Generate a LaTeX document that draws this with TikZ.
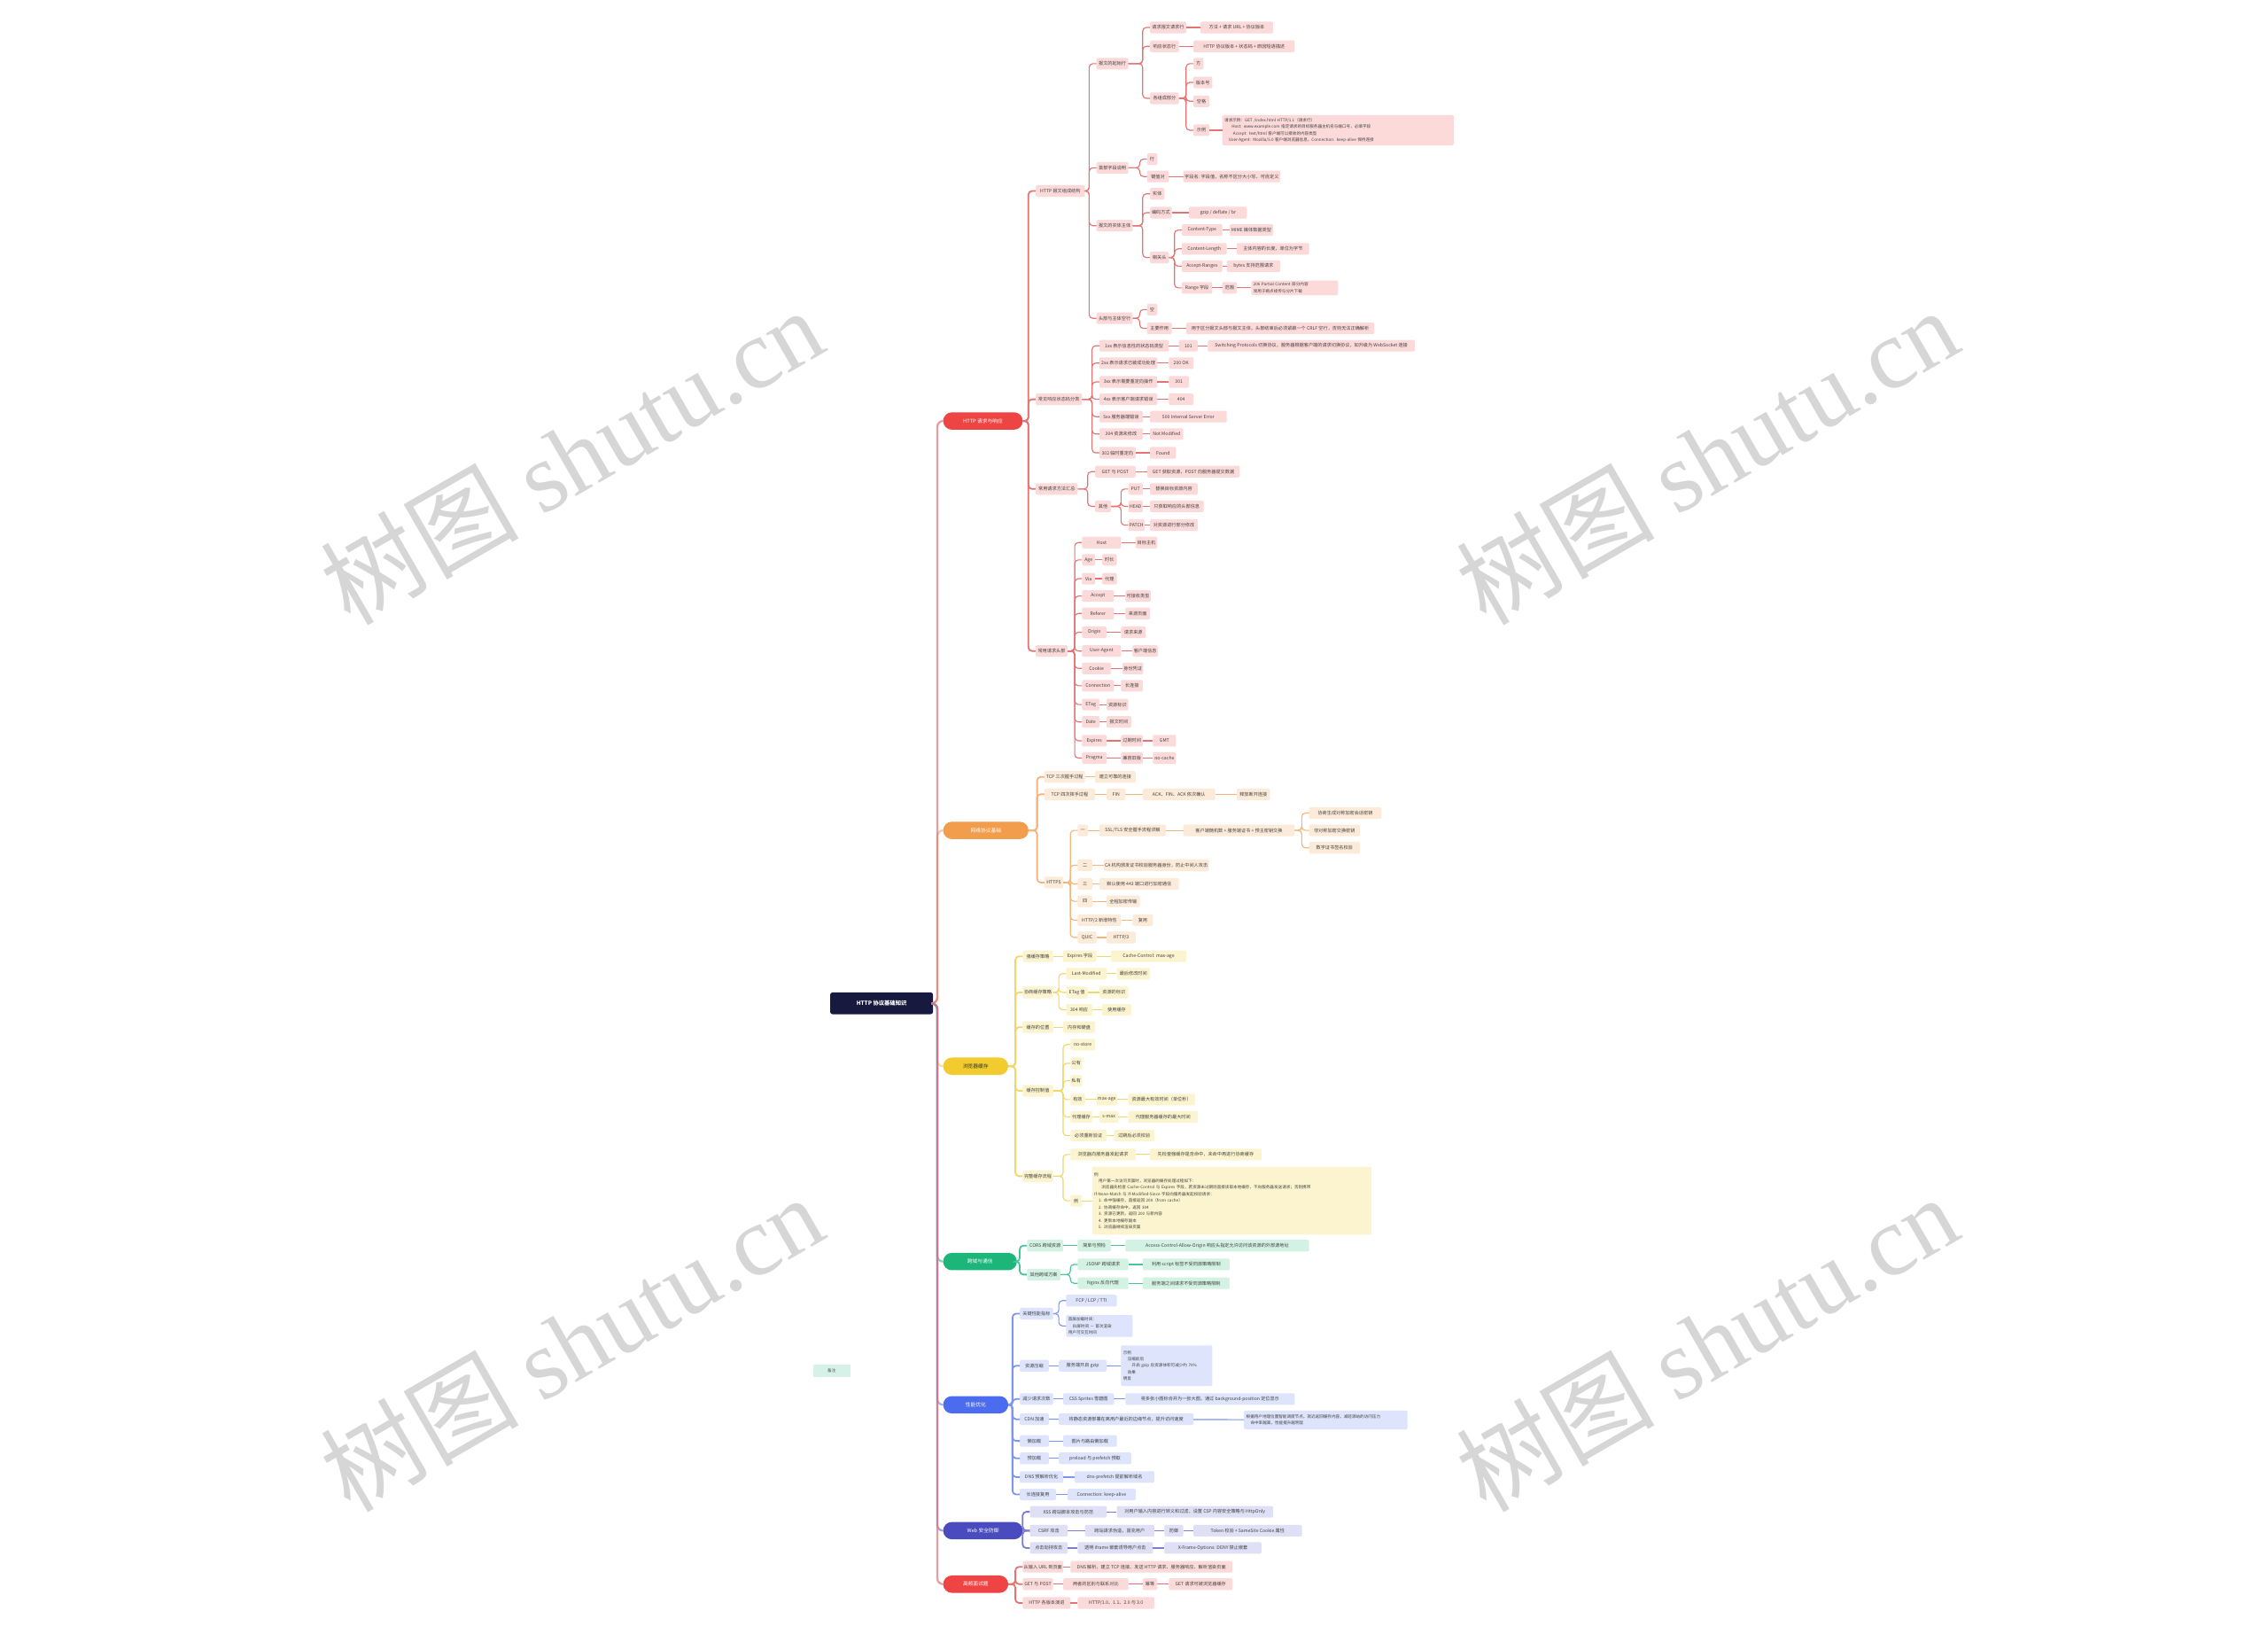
\documentclass[tikz,border=0pt]{standalone}
\usepackage{fontspec}
\setmainfont{Noto Sans CJK SC}
\newfontfamily\wmlatin{Liberation Serif}
\usepackage{xcolor}

\definecolor{rootC}{HTML}{17193F}
\definecolor{redM}{HTML}{EF4444}
\definecolor{redL}{HTML}{FCDADA}
\definecolor{redD}{HTML}{E57373}
\definecolor{orgM}{HTML}{F29D4B}
\definecolor{orgL}{HTML}{FDEBD9}
\definecolor{orgD}{HTML}{F4B57A}
\definecolor{yelM}{HTML}{F2CB2F}
\definecolor{yelL}{HTML}{FCF4CF}
\definecolor{yelD}{HTML}{F1D66A}
\definecolor{grnM}{HTML}{1CB67A}
\definecolor{grnL}{HTML}{D3F2E4}
\definecolor{grnD}{HTML}{4DC497}
\definecolor{bluM}{HTML}{4B6CEE}
\definecolor{bluL}{HTML}{DDE4FB}
\definecolor{bluD}{HTML}{7C95F0}
\definecolor{indM}{HTML}{4A4BBE}
\definecolor{indL}{HTML}{DFDFF5}
\definecolor{indD}{HTML}{7B7CD2}
\definecolor{noteL}{HTML}{D6F1E7}

\begin{document}
\begin{tikzpicture}[x=1mm, y=-1mm,
    rootbox/.style={fill=rootC, text=white, rounded corners=1.5mm, minimum width=71mm, minimum height=15mm, font=\fontsize{11}{13}\selectfont\bfseries},
    branch/.style={anchor=west, rounded corners=6mm, minimum height=12mm, text=white, font=\fontsize{10}{12}\selectfont},
    leaf/.style={anchor=west, rounded corners=0.8mm, minimum height=8mm, inner sep=0.8mm, font=\fontsize{9}{10}\selectfont, text=black!75},
    lfR/.style={leaf, fill=redL, minimum width=#1mm},
    lfO/.style={leaf, fill=orgL, minimum width=#1mm},
    lfY/.style={leaf, fill=yelL, minimum width=#1mm},
    lfG/.style={leaf, fill=grnL, minimum width=#1mm},
    lfB/.style={leaf, fill=bluL, minimum width=#1mm},
    lfI/.style={leaf, fill=indL, minimum width=#1mm},
    multi/.style={text width=#1mm, align=left, font=\fontsize{8}{13}\selectfont},
    lnR/.style={draw=redD, line width=0.7mm, rounded corners=2.5mm},
    lnO/.style={draw=orgD, line width=0.7mm, rounded corners=2.5mm},
    lnY/.style={draw=yelD, line width=0.7mm, rounded corners=2.5mm},
    lnG/.style={draw=grnD, line width=0.7mm, rounded corners=2.5mm},
    lnB/.style={draw=bluD, line width=0.7mm, rounded corners=2.5mm},
    lnI/.style={draw=indD, line width=0.7mm, rounded corners=2.5mm},
    first/.style={line width=1.1mm},
    trunk/.style={line width=1.4mm, rounded corners=4mm, draw opacity=0.7},
    wmark/.style={rotate=30, text=black!16, font=\fontsize{195}{200}\selectfont}
  ]
  \fill[white] (0,0) rectangle (1568,1129);
  \useasboundingbox (0,0) rectangle (1568,1129);

  % watermark
  \foreach \wx/\wy in {395/315, 1180/315, 395/928, 1180/928}
    \node[wmark] (wm\wx\wy) at (\wx,\wy) {树图 {\wmlatin shutu.cn}};

  % root and branches
  \node[rootbox] (root) at (609.5,693.5) {HTTP 协议基础知识};
  \node[fill=noteL, minimum width=26mm, minimum height=9mm, font=\fontsize{8}{9}\selectfont, text=black!70] (note) at (575,947.5) {备注};

  \node[branch, fill=redM, minimum width=55mm] (b1) at (652,291) {HTTP 请求与响应};
  \node[branch, fill=orgM, minimum width=59mm] (b2) at (652,574) {网络协议基础};
  \node[branch, fill=yelM, minimum width=45mm, text=black!80] (b3) at (652,737) {浏览器缓存};
  \node[branch, fill=grnM, minimum width=51mm] (b4) at (652,872) {跨域与通信};
  \node[branch, fill=bluM, minimum width=45mm] (b5) at (652,971) {性能优化};
  \node[branch, fill=indM, minimum width=55mm] (b6) at (652,1058) {Web 安全防御};
  \node[branch, fill=redM, minimum width=45mm] (b7) at (652,1095) {高频面试题};

  % HTTP 请求与响应
  \node[lfR=34] (r1) at (716,132) {HTTP 报文组成结构};
  \node[lfR=32] (r2) at (716,276) {常见响应状态码分类};
  \node[lfR=29] (r3) at (716,338) {常用请求方法汇总};
  \node[lfR=22] (r4) at (716,450) {常用请求头部};

  \node[lfR=22] (r1a) at (758,44) {报文的起始行};
  \node[lfR=22] (r1b) at (758,116) {首部字段说明};
  \node[lfR=25] (r1c) at (758,156) {报文的实体主体};
  \node[lfR=25] (r1d) at (758,220) {头部与主体空行};

  \node[lfR=25] (r1a1) at (795,19) {请求报文请求行};
  \node[lfR=50] (r1a1x) at (830,19) {方法 + 请求 URL + 协议版本};
  \node[lfR=20] (r1a2) at (795,32) {响应状态行};
  \node[lfR=70] (r1a2x) at (825,32) {HTTP 协议版本 + 状态码 + 原因短语描述};
  \node[lfR=20] (r1a3) at (795,68) {各组成部分};
  \node[lfR=7] (r1a3a) at (825,44) {方};
  \node[lfR=13] (r1a3b) at (825,57) {版本号};
  \node[lfR=11] (r1a3c) at (825,70) {空格};
  \node[lfR=11] (r1a3d) at (825,90) {示例};
  \node[lfR=160, multi=157, minimum height=21mm] (r1a3e) at (845,90) {请求示例：GET /index.html HTTP/1.1（请求行）\\
    \hspace{5mm}Host: www.example.com 指定请求的目标服务器主机名与端口号，必填字段\\
    \hspace{6mm}Accept: text/html 客户端可以接收的内容类型\\
    \hspace{3mm}User-Agent: Mozilla/5.0 客户端浏览器信息，Connection: keep-alive 保持连接};

  \node[lfR=7] (r1b1) at (793,110) {行};
  \node[lfR=15] (r1b2) at (793,122) {键值对};
  \node[lfR=67] (r1b2x) at (818,122) {字段名: 字段值，名称不区分大小写，可自定义};

  \node[lfR=10] (r1c1) at (795,134) {实体};
  \node[lfR=15] (r1c2) at (795,147) {编码方式};
  \node[lfR=40] (r1c2x) at (822,147) {gzip / deflate / br};
  \node[lfR=13] (r1c3) at (795,178) {相关头};
  \node[lfR=28] (r1c3a) at (817,159) {Content-Type};
  \node[lfR=30] (r1c3ax) at (850,159) {MIME 媒体数据类型};
  \node[lfR=31] (r1c3b) at (817,172) {Content-Length};
  \node[lfR=50] (r1c3bx) at (855,172) {主体内容的长度，单位为字节};
  \node[lfR=28] (r1c3c) at (817,184) {Accept-Ranges};
  \node[lfR=37] (r1c3cx) at (848,184) {bytes 支持范围请求};
  \node[lfR=21] (r1c3d) at (817,199) {Range 字段};
  \node[lfR=10] (r1c3dx) at (845,199) {范围};
  \node[lfR=60, multi=57, minimum height=10mm] (r1c3dy) at (865,199) {206 Partial Content 部分内容\\常用于断点续传与分片下载};

  \node[lfR=7] (r1d1) at (793,214) {空};
  \node[lfR=17] (r1d2) at (793,227) {主要作用};
  \node[lfR=130] (r1d2x) at (820,227) {用于区分报文头部与报文主体，头部结束后必须紧跟一个 CRLF 空行，否则无法正确解析};

  \node[lfR=48] (r2a) at (760,239) {1xx 表示信息性的状态码类型};
  \node[lfR=13] (r2ax) at (815,239) {101};
  \node[lfR=143] (r2ay) at (835,239) {Switching Protocols 切换协议，服务器根据客户端的请求切换协议，如升级为 WebSocket 连接};
  \node[lfR=40] (r2b) at (760,251) {2xx 表示请求已被成功处理};
  \node[lfR=17] (r2bx) at (808,251) {200 OK};
  \node[lfR=40] (r2c) at (760,264) {3xx 表示需要重定向操作};
  \node[lfR=14] (r2cx) at (808,264) {301};
  \node[lfR=40] (r2d) at (760,276) {4xx 表示客户端请求错误};
  \node[lfR=17] (r2dx) at (808,276) {404};
  \node[lfR=30] (r2e) at (760,288) {5xx 服务器端错误};
  \node[lfR=53] (r2ex) at (795,288) {500 Internal Server Error};
  \node[lfR=30] (r2f) at (760,300) {304 资源未修改};
  \node[lfR=23] (r2fx) at (795,300) {Not Modified};
  \node[lfR=25] (r2g) at (760,313) {302 临时重定向};
  \node[lfR=18] (r2gx) at (795,313) {Found};

  \node[lfR=28] (r3a) at (757,326) {GET 与 POST};
  \node[lfR=64] (r3ax) at (793,326) {GET 获取资源，POST 向服务器提交数据};
  \node[lfR=11] (r3b) at (757,350) {其他};
  \node[lfR=10] (r3b1) at (780,338) {PUT};
  \node[lfR=33] (r3b1x) at (795,338) {替换目标资源内容};
  \node[lfR=10] (r3b2) at (780,350) {HEAD};
  \node[lfR=37] (r3b2x) at (795,350) {只获取响应的头部信息};
  \node[lfR=10] (r3b3) at (780,363) {PATCH};
  \node[lfR=33] (r3b3x) at (795,363) {对资源进行部分修改};

  \node[lfR=27] (r4a) at (748,375) {Host};
  \node[lfR=15] (r4ax) at (785,375) {目标主机};
  \node[lfR=9] (r4b) at (748,387) {Age};
  \node[lfR=10] (r4bx) at (762,387) {时长};
  \node[lfR=9] (r4c) at (748,400) {Via};
  \node[lfR=10] (r4cx) at (762,400) {代理};
  \node[lfR=22] (r4d) at (748,412) {Accept};
  \node[lfR=17] (r4dx) at (778,412) {可接收类型};
  \node[lfR=22] (r4e) at (748,424) {Referer};
  \node[lfR=17] (r4ex) at (778,424) {来源页面};
  \node[lfR=17] (r4f) at (748,437) {Origin};
  \node[lfR=17] (r4fx) at (775,437) {请求来源};
  \node[lfR=27] (r4g) at (748,450) {User-Agent};
  \node[lfR=17] (r4gx) at (783,450) {客户端信息};
  \node[lfR=20] (r4h) at (748,462) {Cookie};
  \node[lfR=14] (r4hx) at (776,462) {身份凭证};
  \node[lfR=22] (r4i) at (748,474) {Connection};
  \node[lfR=15] (r4ix) at (775,474) {长连接};
  \node[lfR=12] (r4j) at (748,487) {ETag};
  \node[lfR=15] (r4jx) at (765,487) {资源标识};
  \node[lfR=12] (r4k) at (748,499) {Date};
  \node[lfR=17] (r4kx) at (765,499) {报文时间};
  \node[lfR=17] (r4l) at (748,512) {Expires};
  \node[lfR=15] (r4lx) at (775,512) {过期时间};
  \node[lfR=16] (r4ly) at (797,512) {GMT};
  \node[lfR=17] (r4m) at (748,524) {Pragma};
  \node[lfR=15] (r4mx) at (775,524) {兼容旧版};
  \node[lfR=16] (r4my) at (797,524) {no-cache};

  % 网络协议基础
  \node[lfO=28] (o1) at (722,537) {TCP 三次握手过程};
  \node[lfO=28] (o1x) at (757,537) {建立可靠的连接};
  \node[lfO=35] (o2) at (722,549) {TCP 四次挥手过程};
  \node[lfO=13] (o2x) at (765,549) {FIN};
  \node[lfO=50] (o2y) at (790,549) {ACK、FIN、ACK 依次确认};
  \node[lfO=23] (o2z) at (855,549) {释放断开连接};
  \node[lfO=13] (o3) at (722,610) {HTTPS};
  \node[lfO=7] (o3a) at (745,574) {一};
  \node[lfO=46] (o3ax) at (760,574) {SSL/TLS 安全握手流程详解};
  \node[lfO=77] (o3ay) at (818,574) {客户端随机数 + 服务端证书 + 预主密钥交换};
  \node[lfO=50] (o3az1) at (905,562) {协商生成对称加密会话密钥};
  \node[lfO=35] (o3az2) at (905,574) {非对称加密交换密钥};
  \node[lfO=35] (o3az3) at (905,586) {数字证书签名校验};
  \node[lfO=10] (o3b) at (745,598) {二};
  \node[lfO=72] (o3bx) at (763,598) {CA 机构颁发证书校验服务器身份，防止中间人攻击};
  \node[lfO=10] (o3c) at (745,611) {三};
  \node[lfO=55] (o3cx) at (760,611) {默认使用 443 端口进行加密通信};
  \node[lfO=10] (o3d) at (745,623) {四};
  \node[lfO=23] (o3dx) at (765,623) {全程加密传输};
  \node[lfO=30] (o3e) at (745,636) {HTTP/2 新增特性};
  \node[lfO=14] (o3ex) at (783,636) {复用};
  \node[lfO=13] (o3f) at (745,648) {QUIC};
  \node[lfO=20] (o3fx) at (765,648) {HTTP/3};

  % 浏览器缓存
  \node[lfY=21] (y1) at (707,661) {强缓存策略};
  \node[lfY=23] (y1x) at (735,661) {Expires 字段};
  \node[lfY=52] (y1y) at (768,661) {Cache-Control: max-age};
  \node[lfY=21] (y2) at (707,686) {协商缓存策略};
  \node[lfY=28] (y2a) at (737,673) {Last-Modified};
  \node[lfY=23] (y2ax) at (772,673) {最后修改时间};
  \node[lfY=15] (y2b) at (737,686) {ETag 值};
  \node[lfY=20] (y2bx) at (760,686) {资源的标识};
  \node[lfY=18] (y2c) at (737,698) {304 响应};
  \node[lfY=20] (y2cx) at (762,698) {使用缓存};
  \node[lfY=21] (y3) at (707,710) {缓存的位置};
  \node[lfY=22] (y3x) at (735,710) {内存和硬盘};
  \node[lfY=21] (y4) at (707,754) {缓存控制值};
  \node[lfY=17] (y4a) at (740,722) {no-store};
  \node[lfY=8] (y4b) at (740,735) {公有};
  \node[lfY=8] (y4c) at (740,747) {私有};
  \node[lfY=10] (y4d) at (740,760) {有效};
  \node[lfY=12] (y4dx) at (758,760) {max-age};
  \node[lfY=46] (y4dy) at (780,760) {资源最大有效时间（单位秒）};
  \node[lfY=15] (y4e) at (740,772) {代理缓存};
  \node[lfY=13] (y4ex) at (760,772) {s-max};
  \node[lfY=48] (y4ey) at (780,772) {代理服务器缓存的最大时间};
  \node[lfY=25] (y4f) at (740,785) {必须重新验证};
  \node[lfY=28] (y4fx) at (770,785) {过期后必须校验};
  \node[lfY=21] (y5) at (707,813) {完整缓存流程};
  \node[lfY=45] (y5a) at (740,798) {浏览器向服务器发起请求};
  \node[lfY=77] (y5ax) at (795,798) {先检查强缓存是否命中，未命中再进行协商缓存};
  \node[lfY=8] (y5b) at (740,830) {例};
  \node[lfY=193, multi=190, minimum height=47mm] (y5bx) at (755,830) {例\\
    \hspace{3mm}用户第一次访问页面时，浏览器的缓存处理过程如下：\\
    \hspace{5mm}浏览器先检查 Cache-Control 与 Expires 字段，若资源未过期则直接读取本地缓存，不向服务器发送请求；否则携带\\
    If-None-Match 与 If-Modified-Since 字段向服务器发起校验请求：\\
    \hspace{3mm}1. 命中强缓存，直接返回 200（from cache）\\
    \hspace{3mm}2. 协商缓存命中，返回 304\\
    \hspace{3mm}3. 资源已更新，返回 200 与新内容\\
    \hspace{3mm}4. 更新本地缓存副本\\
    \hspace{3mm}5. 浏览器继续渲染页面};

  % 跨域与通信
  \node[lfG=25] (g1) at (710,861) {CORS 跨域资源};
  \node[lfG=23] (g1x) at (745,861) {简单与预检};
  \node[lfG=127] (g1y) at (778,861) {Access-Control-Allow-Origin 响应头指定允许访问该资源的外部源地址};
  \node[lfG=23] (g2) at (710,881) {其他跨域方案};
  \node[lfG=35] (g2a) at (745,874) {JSONP 跨域请求};
  \node[lfG=60] (g2ax) at (790,874) {利用 script 标签不受同源策略限制};
  \node[lfG=35] (g2b) at (745,887) {Nginx 反向代理};
  \node[lfG=60] (g2bx) at (790,887) {服务端之间请求不受同源策略限制};

  % 性能优化
  \node[lfB=23] (u1) at (705,908) {关键性能指标};
  \node[lfB=35] (u1a) at (737,899) {FCP / LCP / TTI};
  \node[lfB=46, multi=43, minimum height=15mm] (u1b) at (737,916.5) {首屏加载时间：\\\hspace{3mm}白屏时间 — 首次渲染\\用户可交互时间};
  \node[lfB=20] (u2) at (705,944) {资源压缩};
  \node[lfB=33] (u2x) at (732,944) {服务端开启 gzip};
  \node[lfB=63, multi=60, minimum height=28mm] (u2y) at (775,944) {示例\\\hspace{3mm}压缩前后\\\hspace{6mm}开启 gzip 后资源体积可减少约 70\%\\\hspace{3mm}效果\\明显};
  \node[lfB=23] (u3) at (705,967) {减少请求次数};
  \node[lfB=35] (u3x) at (735,967) {CSS Sprites 雪碧图};
  \node[lfB=117] (u3y) at (778,967) {将多张小图标合并为一张大图，通过 background-position 定位显示};
  \node[lfB=20] (u4) at (705,981) {CDN 加速};
  \node[lfB=93] (u4x) at (732,981) {将静态资源部署在离用户最近的边缘节点，提升访问速度};
  \node[lfB=113, multi=110, minimum height=13mm] (u4y) at (860,981.5) {根据用户地理位置智能调度节点，就近返回缓存内容，减轻源站的访问压力\\\hspace{3mm}命中率越高，性能提升越明显};
  \node[lfB=20] (u5) at (705,996) {懒加载};
  \node[lfB=37] (u5x) at (735,996) {图片与路由懒加载};
  \node[lfB=20] (u6) at (705,1008) {预加载};
  \node[lfB=50] (u6x) at (732,1008) {preload 与 prefetch 预取};
  \node[lfB=30] (u7) at (705,1021) {DNS 预解析优化};
  \node[lfB=55] (u7x) at (743,1021) {dns-prefetch 提前解析域名};
  \node[lfB=25] (u8) at (705,1033) {长连接复用};
  \node[lfB=47] (u8x) at (738,1033) {Connection: keep-alive};

  % Web 安全防御
  \node[lfI=53] (v1) at (712,1045) {XSS 跨站脚本攻击与防范};
  \node[lfI=108] (v1x) at (772,1045) {对用户输入内容进行转义和过滤，设置 CSP 内容安全策略与 HttpOnly};
  \node[lfI=26] (v2) at (712,1058) {CSRF 攻击};
  \node[lfI=48] (v2x) at (750,1058) {跨站请求伪造，冒充用户};
  \node[lfI=13] (v2y) at (805,1058) {防御};
  \node[lfI=75] (v2z) at (825,1058) {Token 校验 + SameSite Cookie 属性};
  \node[lfI=26] (v3) at (712,1070) {点击劫持攻击};
  \node[lfI=52] (v3x) at (745,1070) {透明 iframe 嵌套诱导用户点击};
  \node[lfI=67] (v3y) at (805,1070) {X-Frame-Options: DENY 禁止嵌套};

  % 高频面试题
  \node[lfR=28] (w1) at (707,1083) {从输入 URL 到页面};
  \node[lfR=112] (w1x) at (740,1083) {DNS 解析、建立 TCP 连接、发送 HTTP 请求、服务器响应、解析渲染页面};
  \node[lfR=21] (w2) at (707,1095) {GET 与 POST};
  \node[lfR=45] (w2x) at (735,1095) {两者的区别与联系对比};
  \node[lfR=10] (w2y) at (790,1095) {幂等};
  \node[lfR=44] (w2z) at (808,1095) {GET 请求可被浏览器缓存};
  \node[lfR=33] (w3) at (707,1108) {HTTP 各版本演进};
  \node[lfR=53] (w3x) at (745,1108) {HTTP/1.0、1.1、2.0 与 3.0};

  % trunk
  \foreach \b/\c in {b2/orgD, b1/redD, b3/yelD, b4/grnD, b5/bluD, b6/indD, b7/redD}
    \draw[trunk, draw=\c] (\b.west) -- ++(-4,0) |- (root.east);

  % first level
  \foreach \c in {r1,r2,r3,r4} \draw[lnR, first] (\c.west) -- ++(-5,0) |- (b1.east);
  \foreach \c in {o1,o2,o3} \draw[lnO, first] (\c.west) -- ++(-5,0) |- (b2.east);
  \foreach \c in {y1,y2,y3,y4,y5} \draw[lnY, first] (\c.west) -- ++(-5,0) |- (b3.east);
  \foreach \c in {g1,g2} \draw[lnG, first] (\c.west) -- ++(-5,0) |- (b4.east);
  \foreach \c in {u1,u2,u3,u4,u5,u6,u7,u8} \draw[lnB, first] (\c.west) -- ++(-5,0) |- (b5.east);
  \foreach \c in {v1,v2,v3} \draw[lnI, first] (\c.west) -- ++(-5,0) |- (b6.east);
  \foreach \c in {w1,w2,w3} \draw[lnR, first] (\c.west) -- ++(-5,0) |- (b7.east);

  % deeper levels
  \foreach \p/\c in {r1/r1a, r1/r1b, r1/r1c, r1/r1d, r1a/r1a1, r1a/r1a2, r1a/r1a3,
      r1a3/r1a3a, r1a3/r1a3b, r1a3/r1a3c, r1a3/r1a3d, r1b/r1b1, r1b/r1b2,
      r1c/r1c1, r1c/r1c2, r1c/r1c3, r1c3/r1c3a, r1c3/r1c3b, r1c3/r1c3c, r1c3/r1c3d,
      r1d/r1d1, r1d/r1d2, r2/r2a, r2/r2b, r2/r2c, r2/r2d, r2/r2e, r2/r2f, r2/r2g,
      r3/r3a, r3/r3b, r3b/r3b1, r3b/r3b2, r3b/r3b3,
      r4/r4a, r4/r4b, r4/r4c, r4/r4d, r4/r4e, r4/r4f, r4/r4g, r4/r4h, r4/r4i, r4/r4j, r4/r4k, r4/r4l, r4/r4m}
    \draw[lnR] (\c.west) -- ++(-5,0) |- (\p.east);
  \foreach \p/\c in {o3/o3a, o3/o3b, o3/o3c, o3/o3d, o3/o3e, o3/o3f, o3ay/o3az1, o3ay/o3az2, o3ay/o3az3}
    \draw[lnO] (\c.west) -- ++(-5,0) |- (\p.east);
  \foreach \p/\c in {y2/y2a, y2/y2b, y2/y2c, y4/y4a, y4/y4b, y4/y4c, y4/y4d, y4/y4e, y4/y4f, y5/y5a, y5/y5b}
    \draw[lnY] (\c.west) -- ++(-5,0) |- (\p.east);
  \foreach \p/\c in {g2/g2a, g2/g2b} \draw[lnG] (\c.west) -- ++(-5,0) |- (\p.east);
  \foreach \p/\c in {u1/u1a, u1/u1b} \draw[lnB] (\c.west) -- ++(-5,0) |- (\p.east);

  % chains
  \draw[lnR] (r1a1) -- (r1a1x);
  \draw[lnR] (r1a2) -- (r1a2x);
  \draw[lnR] (r1a3d) -- (r1a3e);
  \draw[lnR] (r1b2) -- (r1b2x);
  \draw[lnR] (r1c2) -- (r1c2x);
  \draw[lnR] (r1c3a) -- (r1c3ax);
  \draw[lnR] (r1c3b) -- (r1c3bx);
  \draw[lnR] (r1c3c) -- (r1c3cx);
  \draw[lnR] (r1c3d) -- (r1c3dx) -- (r1c3dy);
  \draw[lnR] (r1d2) -- (r1d2x);
  \draw[lnR] (r2a) -- (r2ax) -- (r2ay);
  \foreach \c in {r2b,r2c,r2d,r2e,r2f,r2g,r3a,r3b1,r3b2,r3b3,r4a,r4b,r4c,r4d,r4e,r4f,r4g,r4h,r4i,r4j,r4k}
    \draw[lnR] (\c) -- (\c x);
  \draw[lnR] (r4l) -- (r4lx) -- (r4ly);
  \draw[lnR] (r4m) -- (r4mx) -- (r4my);

  \draw[lnO] (o1) -- (o1x);
  \draw[lnO] (o2) -- (o2x) -- (o2y) -- (o2z);
  \draw[lnO] (o3a) -- (o3ax) -- (o3ay);
  \foreach \c in {o3b,o3c,o3d,o3e,o3f} \draw[lnO] (\c) -- (\c x);

  \draw[lnY] (y1) -- (y1x) -- (y1y);
  \foreach \c in {y2a,y2b,y2c,y3,y4f,y5a,y5b} \draw[lnY] (\c) -- (\c x);
  \draw[lnY] (y4d) -- (y4dx) -- (y4dy);
  \draw[lnY] (y4e) -- (y4ex) -- (y4ey);

  \draw[lnG] (g1) -- (g1x) -- (g1y);
  \draw[lnG] (g2a) -- (g2ax);
  \draw[lnG] (g2b) -- (g2bx);

  \draw[lnB] (u2) -- (u2x) -- (u2y);
  \draw[lnB] (u3) -- (u3x) -- (u3y);
  \draw[lnB] (u4) -- (u4x) -- (u4y);
  \foreach \c in {u5,u6,u7,u8} \draw[lnB] (\c) -- (\c x);

  \draw[lnI] (v1) -- (v1x);
  \draw[lnI] (v2) -- (v2x) -- (v2y) -- (v2z);
  \draw[lnI] (v3) -- (v3x) -- (v3y);

  \draw[lnR] (w1) -- (w1x);
  \draw[lnR] (w2) -- (w2x) -- (w2y) -- (w2z);
  \draw[lnR] (w3) -- (w3x);
\end{tikzpicture}
\end{document}
